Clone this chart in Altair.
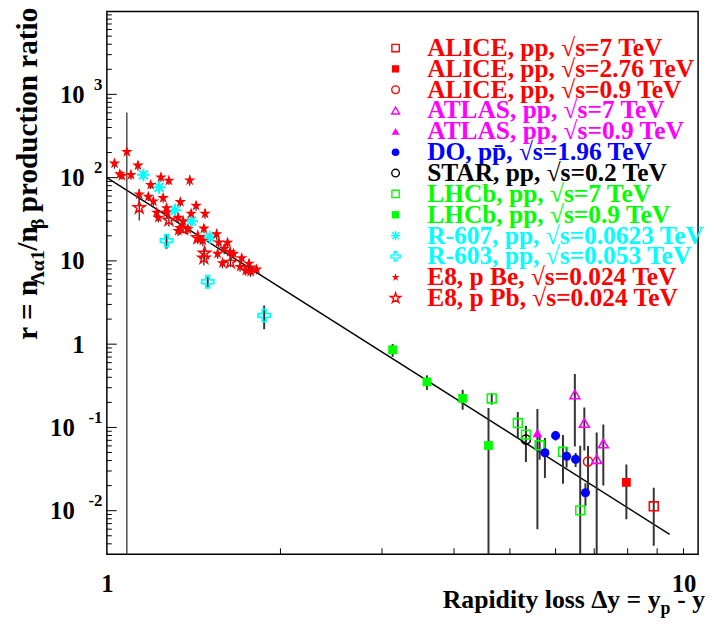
import altair as alt
import pandas as pd

# ---------------- data ----------------
series_names = [
    "ALICE, pp, √s=7 TeV",
    "ALICE, pp, √s=2.76 TeV",
    "ALICE, pp, √s=0.9 TeV",
    "ATLAS, pp, √s=7 TeV",
    "ATLAS, pp, √s=0.9 TeV",
    "DO, pp\u0304, √s=1.96 TeV",
    "STAR, pp, √s=0.2 TeV",
    "LHCb, pp, √s=7 TeV",
    "LHCb, pp, √s=0.9 TeV",
    "R-607, pp, √s=0.0623 TeV",
    "R-603, pp, √s=0.053 TeV",
    "E8, p Be, √s=0.024 TeV",
    "E8, p Pb, √s=0.024 TeV",
]
series_colors = ["#ff0000", "#ff0000", "#ff0000", "#ff00ff", "#ff00ff", "#0000ff", "#000000",
                 "#00ff00", "#00ff00", "#00ffff", "#00ffff", "#ff0000", "#ff0000"]
series_filled = [False, True, False, False, True, True, False, False, True, False, False, True, False]

STAR = ("M0,-1L0.225,-0.309L0.951,-0.309L0.363,0.118L0.588,0.809L0,0.382L-0.588,0.809"
        "L-0.363,0.118L-0.951,-0.309L-0.225,-0.309Z")
ASTER = "M-1,0L1,0M0,-1L0,1M-0.7,-0.7L0.7,0.7M-0.7,0.7L0.7,-0.7"
CROSS = ("M-0.3,-1L0.3,-1L0.3,-0.3L1,-0.3L1,0.3L0.3,0.3L0.3,1L-0.3,1L-0.3,0.3L-1,0.3"
         "L-1,-0.3L-0.3,-0.3Z")
series_shapes = ["square", "square", "circle", "triangle-up", "triangle-up", "circle", "circle",
                 "square", "square", ASTER, CROSS, STAR, STAR]
series_sizes = [80, 80, 85, 100, 100, 85, 85, 80, 80, 170, 150, 150, 160]
legend_sizes = [55, 55, 60, 65, 65, 60, 60, 55, 55, 90, 90, 70, 120]
series_strokes = [1.6, 1.6, 1.6, 1.6, 1.6, 1.6, 1.6, 1.6, 1.6, 2.0, 1.8, 1.6, 1.5]

alice7_x = [8.88]
alice7_r = [0.0113]
alice7_e = [0.0075]
alice276_x = [7.96]
alice276_r = [0.0219]
alice276_e = [0.014]
alice09_x = [6.83]
alice09_r = [0.0389]
alice09_e = [0.021]
atlas7_x = [6.48, 6.73, 7.07, 7.26]
atlas7_r = [0.249, 0.113, 0.0417, 0.0641]
atlas7_e = [0.19, 0.06, 0.045, 0.044]
atlas09_x = [5.58]
atlas09_r = [0.086]
atlas09_e = [0.08]
d0_x = [5.75, 6.00, 6.27, 6.50, 6.76]
d0_r = [0.0497, 0.0797, 0.045, 0.0414, 0.0164]
d0_e = [0.025, 0.01, 0.012, 0.008, 0.005]
star_x = [5.33]
star_r = [0.0715]
star_e = [0.033]
lhcb7_x = [4.65, 5.16, 5.33, 5.63, 6.18, 6.62]
lhcb7_r = [0.223, 0.113, 0.082, 0.061, 0.051, 0.0101]
lhcb7_e = [0.035, 0.04, 0.02, 0.02, 0.03, 0.05]
lhcb09_x = [3.13, 3.59, 4.14, 4.59]
lhcb09_r = [0.856, 0.352, 0.223, 0.0607]
lhcb09_e = [0.15, 0.07, 0.06, 0.11]
r607_x = [1.157, 1.232, 1.313, 1.402, 1.508]
r607_r = [108, 76.5, 40.6, 30.0, 19.2]
r607_e = [12, 8, 5, 3.5, 2.5]
r603_x = [1.269, 1.496, 1.874]
r603_r = [17.5, 5.62, 2.21]
r603_e = [3.5, 0.8, 0.7]
e8be_x = [1.031, 1.083, 1.053, 1.062, 1.101, 1.132, 1.241, 1.281, 1.191, 1.392, 1.138, 1.180,
          1.204, 1.252, 1.341, 1.428, 1.480, 1.400, 1.269, 1.220, 1.228, 1.329, 1.356, 1.338,
          1.382, 1.438, 1.467, 1.473, 1.550, 1.563, 1.619, 1.598, 1.636, 1.556, 1.587, 1.658,
          1.713, 1.702, 1.741, 1.775, 1.818, 1.764, 1.269, 1.329]
e8be_r = [148, 204, 110, 105, 108, 140, 101, 92, 82, 93, 63, 59,
          52, 57, 51, 46, 37, 37, 43, 38, 33, 33, 30, 25,
          24, 18.4, 17.5, 24.5, 21, 16.7, 16.6, 14, 12.8, 12.2, 9.4, 12.2,
          10.8, 8.5, 7.7, 7.4, 7.9, 9.3, 37.9, 23.0]
e8be_e = [20, 400, 12, 10, 14, 18, 12, 10, 9, 13, 10, 7,
          6, 7, 6, 6, 5, 4, 5, 5, 4, 4, 4, 3,
          3, 2.5, 2.5, 3, 3, 2, 2, 2, 1.6, 1.6, 1.3, 1.5,
          1.3, 1.1, 1, 1, 1, 1.2, 5, 3]
e8pb_x = [1.138, 1.281, 1.356, 1.477, 1.473, 1.764, 1.638, 1.438]
e8pb_r = [43.5, 30.9, 24.3, 12.4, 10.8, 8.2, 9.6, 19.0]
e8pb_e = [13, 5, 3, 2.5, 2, 1, 1.2, 2.5]

series_x = [alice7_x, alice276_x, alice09_x, atlas7_x, atlas09_x, d0_x, star_x,
            lhcb7_x, lhcb09_x, r607_x, r603_x, e8be_x, e8pb_x]
series_r = [alice7_r, alice276_r, alice09_r, atlas7_r, atlas09_r, d0_r, star_r,
            lhcb7_r, lhcb09_r, r607_r, r603_r, e8be_r, e8pb_r]
series_e = [alice7_e, alice276_e, alice09_e, atlas7_e, atlas09_e, d0_e, star_e,
            lhcb7_e, lhcb09_e, r607_e, r603_e, e8be_e, e8pb_e]

fit_x = [1.0, 9.46]
fit_r = [100.0, 0.0052]

y_label_values = [0.01, 0.1, 1, 10, 100, 1000]
y_minor_values = [0.004, 0.005, 0.006, 0.007, 0.008, 0.009,
                  0.02, 0.03, 0.04, 0.05, 0.06, 0.07, 0.08, 0.09,
                  0.2, 0.3, 0.4, 0.5, 0.6, 0.7, 0.8, 0.9,
                  2, 3, 4, 5, 6, 7, 8, 9,
                  20, 30, 40, 50, 60, 70, 80, 90,
                  200, 300, 400, 500, 600, 700, 800, 900,
                  2000, 3000, 4000, 5000, 6000, 7000, 8000, 9000]
x_label_values = [1, 10]
x_tick_values = [2, 3, 4, 5, 6, 7, 8, 9, 10]

y_title_parts = ["r = n", "Λα1", "/n", "β", "production ratio"]
x_title_parts = ["Rapidity loss Δy = y", "p", "- y"]

# ---------------- tables ----------------
rows = []
for name, xv, rv, ev, filled in zip(series_names, series_x, series_r, series_e, series_filled):
    for a, b, c in zip(xv, rv, ev):
        rows.append({"series": name, "dy": a, "r": b, "err": c, "filled": filled,
                     "e8": name.startswith("E8")})
df = pd.DataFrame(rows)
df["lo"] = (df["r"] - df["err"]).clip(lower=1e-5)
df["hi"] = df["r"] + df["err"]

fit_df = pd.DataFrame({"dy": fit_x, "r": fit_r})
leg_df = pd.DataFrame({"series": series_names, "filled": series_filled})
ymaj_df = pd.DataFrame({"v": y_label_values})
ymin_df = pd.DataFrame({"v": y_minor_values})
xtick_df = pd.DataFrame({"v": x_tick_values})

# ---------------- layout ----------------
W, H = 598, 549
FONT = "Liberation Serif"

xs = alt.Scale(type="log", domain=[1.0, 10.6], nice=False)
ys = alt.Scale(type="log", domain=[0.003, 9900], nice=False)
shape_scale = alt.Scale(domain=series_names, range=series_shapes)
color_scale = alt.Scale(domain=series_names, range=series_colors)
size_scale = alt.Scale(type="ordinal", domain=series_names, range=series_sizes)
leg_size_scale = alt.Scale(type="ordinal", domain=series_names, range=legend_sizes)
sw_scale = alt.Scale(type="ordinal", domain=series_names, range=series_strokes)

lab_common = dict(grid=False, domain=False, ticks=False, title=None, labelFont=FONT,
                  labelFontWeight="bold", labelColor="black", labelFlush=False,
                  labelOverlap=False)

y_lab_pos = alt.Axis(orient="left", values=[1, 10, 100, 1000],
                     labelExpr="datum.value < 5 ? '1' : '10'", labelFontSize=25,
                     labelPadding=23, labelBaseline="middle", **lab_common)
y_lab_neg = alt.Axis(orient="left", values=[0.01, 0.1], labelExpr="'10'", labelFontSize=25,
                     labelPadding=33, labelBaseline="middle", **lab_common)
y_exp = alt.Axis(orient="left", values=[0.01, 0.1, 100, 1000],
                 labelExpr="datum.value > 500 ? '3' : datum.value > 50 ? '2' : datum.value > 0.05 ? '-1' : '-2'",
                 labelFontSize=17, labelPadding=5, labelOffset=-10, labelBaseline="middle",
                 **lab_common)
x_lab = alt.Axis(orient="bottom", values=x_label_values,
                 labelExpr="datum.value < 5 ? '1' : '10'", labelFontSize=25, labelPadding=18,
                 **lab_common)

line = alt.Chart(fit_df).mark_line(color="black", strokeWidth=1.4, clip=True).encode(
    x=alt.X("dy:Q", scale=xs, axis=x_lab),
    y=alt.Y("r:Q", scale=ys, axis=y_lab_pos),
)
err_other = alt.Chart(df).transform_filter("!datum.e8").mark_rule(
    color="#333333", strokeWidth=2, clip=True).encode(
    x=alt.X("dy:Q", scale=xs, axis=None),
    y=alt.Y("lo:Q", scale=ys, axis=y_lab_neg),
    y2="hi:Q",
)
err_e8 = alt.Chart(df).transform_filter("datum.e8").mark_rule(
    color="#333333", strokeWidth=1.3, clip=True).encode(
    x=alt.X("dy:Q", scale=xs, axis=None),
    y=alt.Y("lo:Q", scale=ys, axis=y_exp),
    y2="hi:Q",
)
pts_open = alt.Chart(df).transform_filter("!datum.filled").mark_point(
    filled=False, opacity=1, clip=True).encode(
    x=alt.X("dy:Q", scale=xs, axis=None),
    y=alt.Y("r:Q", scale=ys, axis=None),
    shape=alt.Shape("series:N", scale=shape_scale, legend=None),
    color=alt.Color("series:N", scale=color_scale, legend=None),
    size=alt.Size("series:N", scale=size_scale, legend=None),
    strokeWidth=alt.StrokeWidth("series:N", scale=sw_scale, legend=None),
)
pts_filled = alt.Chart(df).transform_filter("datum.filled").mark_point(
    filled=True, opacity=1, clip=True).encode(
    x=alt.X("dy:Q", scale=xs, axis=None),
    y=alt.Y("r:Q", scale=ys, axis=None),
    shape=alt.Shape("series:N", scale=shape_scale, legend=None),
    color=alt.Color("series:N", scale=color_scale, legend=None),
    size=alt.Size("series:N", scale=size_scale, legend=None),
)
# inward ticks (ROOT style)
ymaj = alt.Chart(ymaj_df).mark_rule(color="black", strokeWidth=1).encode(
    y=alt.Y("v:Q", scale=ys, axis=None), x=alt.value(0), x2=alt.value(10))
ymin = alt.Chart(ymin_df).mark_rule(color="black", strokeWidth=1).encode(
    y=alt.Y("v:Q", scale=ys, axis=None), x=alt.value(0), x2=alt.value(5))
xtk = alt.Chart(xtick_df).mark_rule(color="black", strokeWidth=1).encode(
    x=alt.X("v:Q", scale=xs, axis=None), y=alt.value(H), y2=alt.value(H - 6))

main = alt.layer(line, err_other, err_e8, pts_open, pts_filled, ymaj, ymin, xtk).resolve_axis(
    x="independent", y="independent")

# ---------------- legend ----------------
leg_y = alt.Y("series:N", sort=series_names,
              scale=alt.Scale(type="point", domain=series_names, range=[37, 290], padding=0),
              axis=None)
leg_open = alt.Chart(leg_df).transform_filter("!datum.filled").mark_point(
    filled=False, strokeWidth=1.4, opacity=1).encode(
    x=alt.value(292), y=leg_y,
    shape=alt.Shape("series:N", scale=shape_scale, legend=None),
    color=alt.Color("series:N", scale=color_scale, legend=None),
    size=alt.Size("series:N", scale=leg_size_scale, legend=None),
)
leg_filled = alt.Chart(leg_df).transform_filter("datum.filled").mark_point(
    filled=True, opacity=1).encode(
    x=alt.value(292), y=leg_y,
    shape=alt.Shape("series:N", scale=shape_scale, legend=None),
    color=alt.Color("series:N", scale=color_scale, legend=None),
    size=alt.Size("series:N", scale=leg_size_scale, legend=None),
)
leg_text = alt.Chart(leg_df).mark_text(
    align="left", baseline="middle", font=FONT, fontWeight="bold", fontSize=25.7).encode(
    x=alt.value(324), y=leg_y, text="series:N",
    color=alt.Color("series:N", scale=color_scale, legend=None),
)
legend = alt.layer(leg_open, leg_filled, leg_text)


def piece(txt, x, y, size, angle=0, align="left"):
    d = pd.DataFrame({"t": [txt]})
    kw = dict(align=align, baseline="alphabetic", font=FONT, fontWeight="bold",
              fontSize=size, color="black")
    if angle:
        kw["angle"] = angle
    return alt.Chart(d).mark_text(**kw).encode(x=alt.value(x), y=alt.value(y), text="t:N")


titles = [
    piece(y_title_parts[0], -71, 332, 29.5, 270),
    piece(y_title_parts[1], -64, 277, 20, 270),
    piece(y_title_parts[2], -71, 242, 29.5, 270),
    piece(y_title_parts[3], -64, 220, 20, 270),
    piece(y_title_parts[4], -71, 203, 29.5, 270),
    piece(x_title_parts[0], 560, 603, 26, 0, "right"),
    piece(x_title_parts[1], 570, 609, 18, 0, "right"),
    piece(x_title_parts[2], 605, 603, 26, 0, "right"),
]

chart = alt.layer(main, legend, *titles).resolve_scale(
    x="independent", y="independent", size="independent"
).properties(
    width=W, height=H, autosize=alt.AutoSizeParams(type="none"),
    padding={"left": 100, "top": 0, "right": 9, "bottom": 61},
).configure_view(stroke="black", strokeWidth=1.5)

chart.save("out.html", embed_options={"renderer": "svg", "actions": False})
